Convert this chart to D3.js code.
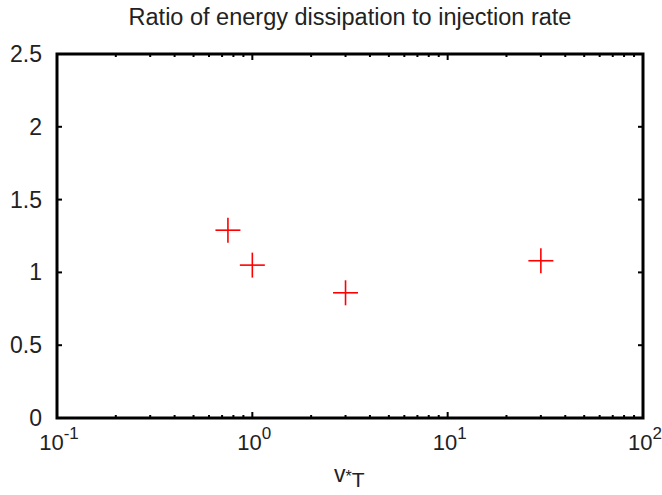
<!DOCTYPE html>
<html>
<head>
<meta charset="utf-8">
<script src="https://cdn.jsdelivr.net/npm/d3@7"></script>
<style>
  body { margin: 0; background: #fff; }
  text { font-family: "Liberation Sans", Arial, sans-serif; fill: #222; }
</style>
</head>
<body>
<svg id="chart" width="662" height="495"></svg>
<script>
const xVals = [0.75, 1, 3, 30];
const yVals = [1.29, 1.05, 0.86, 1.08];
const yTicks = [0, 0.5, 1, 1.5, 2, 2.5];
const xDecades = [-1, 0, 1, 2];

const svg = d3.select('#chart');
const margin = { left: 57, right: 19, top: 54, bottom: 77 };
const W = 662, H = 495;

const x = d3.scaleLog().domain([0.1, 100]).range([margin.left, W - margin.right]);
const y = d3.scaleLinear().domain([0, 2.5]).range([H - margin.bottom, margin.top]);

const x0 = x.range()[0], x1 = x.range()[1];
const y0 = y.range()[0], y1 = y.range()[1];

// title
svg.append('text')
  .attr('x', 350).attr('y', 25)
  .attr('text-anchor', 'middle')
  .attr('font-size', 23.5)
  .text('Ratio of energy dissipation to injection rate');

const g = svg.append('g');

// y ticks, both sides
yTicks.forEach(t => {
  g.append('line').attr('x1', x0).attr('x2', x0 + 5).attr('y1', y(t)).attr('y2', y(t))
    .attr('stroke', '#000').attr('stroke-width', 2);
  g.append('line').attr('x1', x1).attr('x2', x1 - 5).attr('y1', y(t)).attr('y2', y(t))
    .attr('stroke', '#000').attr('stroke-width', 2);
  g.append('text')
    .attr('x', x0 - 15).attr('y', y(t) + 8)
    .attr('text-anchor', 'end')
    .attr('font-size', 23)
    .text(d3.format('')(t));
});

// x ticks: major and minor on top and bottom
xDecades.forEach((d, i) => {
  const base = Math.pow(10, d);
  g.append('line').attr('x1', x(base)).attr('x2', x(base)).attr('y1', y0).attr('y2', y0 - 6)
    .attr('stroke', '#000').attr('stroke-width', 2);
  g.append('line').attr('x1', x(base)).attr('x2', x(base)).attr('y1', y1).attr('y2', y1 + 6)
    .attr('stroke', '#000').attr('stroke-width', 2);
  if (i < xDecades.length - 1) {
    for (let k = 2; k <= 9; k++) {
      const v = base * k;
      g.append('line').attr('x1', x(v)).attr('x2', x(v)).attr('y1', y0).attr('y2', y0 - 3)
        .attr('stroke', '#000').attr('stroke-width', 2);
      g.append('line').attr('x1', x(v)).attr('x2', x(v)).attr('y1', y1).attr('y2', y1 + 3)
        .attr('stroke', '#000').attr('stroke-width', 2);
    }
  }
  const lab = g.append('text')
    .attr('x', x(base) + 2).attr('y', y0 + 32)
    .attr('text-anchor', 'middle')
    .attr('font-size', 22);
  lab.append('tspan').text('10');
  lab.append('tspan').attr('dy', -11).attr('font-size', 17).text(String(d));
});

// frame
g.append('rect')
  .attr('x', x0).attr('y', y1)
  .attr('width', x1 - x0).attr('height', y0 - y1)
  .attr('fill', 'none').attr('stroke', '#000').attr('stroke-width', 3);

// points as plus markers
const pts = xVals.map((v, i) => ({ x: v, y: yVals[i] }));
const s = 12.5;
const mk = g.selectAll('g.pt').data(pts).join('g').attr('class', 'pt');
mk.append('line')
  .attr('x1', d => x(d.x) - s).attr('x2', d => x(d.x) + s)
  .attr('y1', d => y(d.y)).attr('y2', d => y(d.y))
  .attr('stroke', '#ff0000').attr('stroke-width', 1.6);
mk.append('line')
  .attr('x1', d => x(d.x)).attr('x2', d => x(d.x))
  .attr('y1', d => y(d.y) - s).attr('y2', d => y(d.y) + s)
  .attr('stroke', '#ff0000').attr('stroke-width', 1.6);

// x label v*T
const xl = svg.append('text')
  .attr('x', 334).attr('y', 482)
  .attr('font-size', 23);
xl.append('tspan').text('v');
xl.append('tspan').attr('font-size', 16).attr('dy', 0).text('*');
xl.append('tspan').attr('font-size', 21).attr('dy', 5).text('T');
</script>
</body>
</html>
